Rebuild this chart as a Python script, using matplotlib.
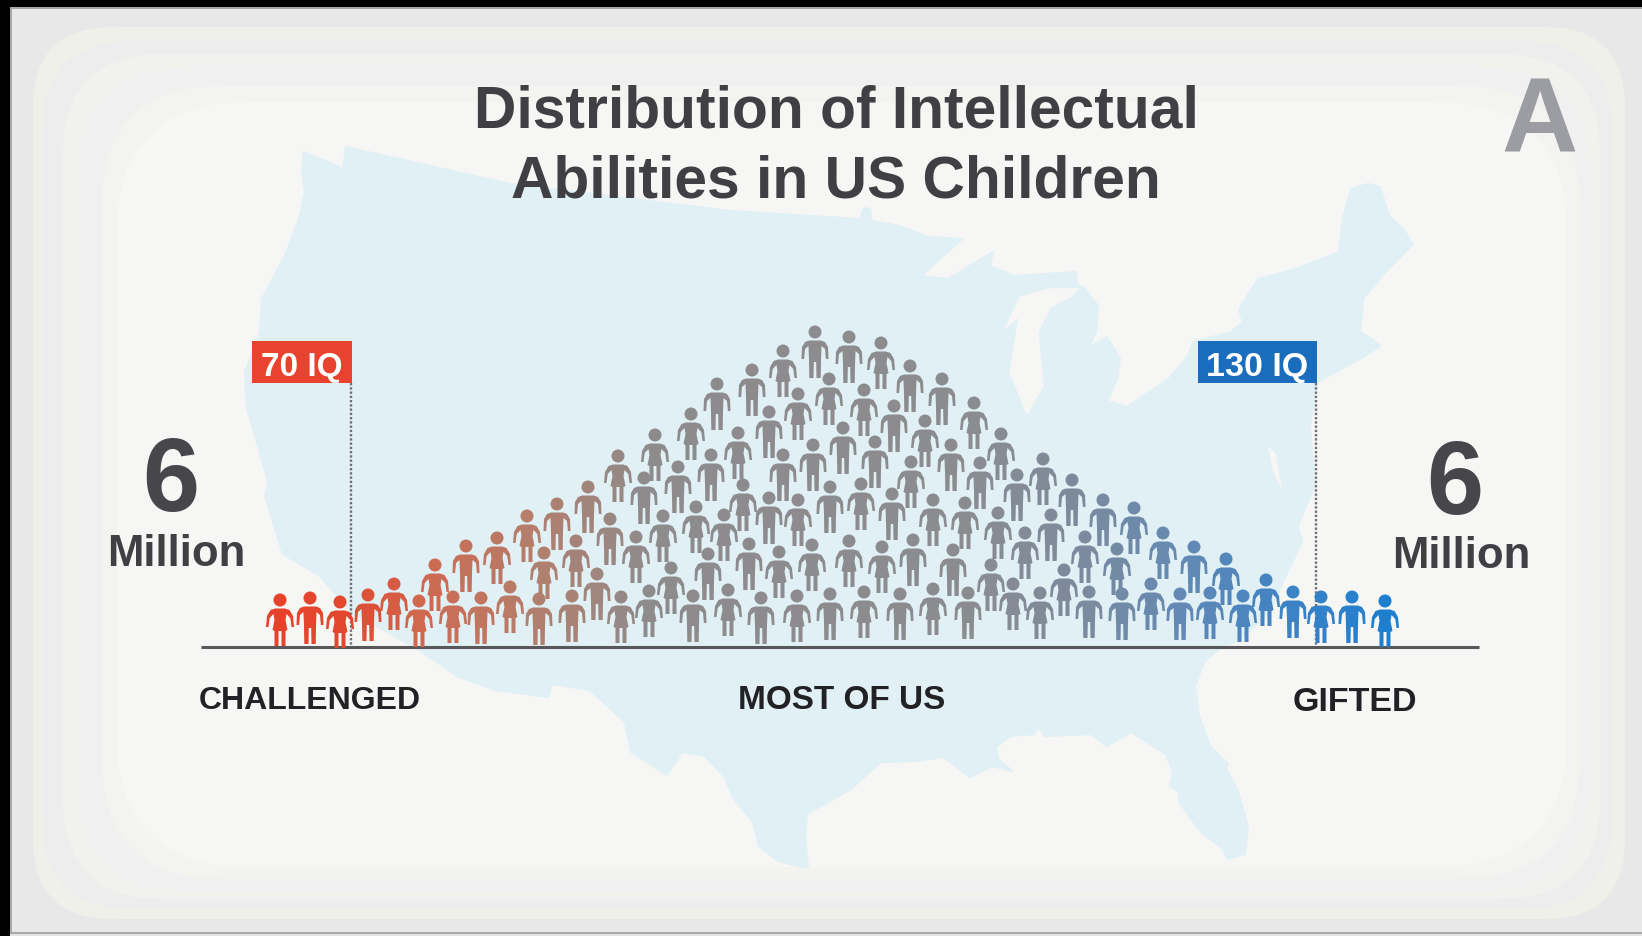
import numpy as np
import matplotlib
matplotlib.use('Agg')
import matplotlib.pyplot as plt
from matplotlib.colors import LinearSegmentedColormap
from matplotlib.patches import FancyBboxPatch, Polygon, Rectangle
from matplotlib.path import Path

plt.rcParams['font.family'] = ['Liberation Sans', 'DejaVu Sans']

# head positions of the figures, in image pixels
men_x = [310, 368, 466, 481, 539, 557, 572, 588, 597, 610, 644, 678, 693, 708, 711, 717, 749, 752, 761, 769, 769, 783,
         815, 849, 910, 942, 894, 843, 813, 875, 951, 980, 1017, 1072, 830, 892, 1051, 1103, 1194, 913, 953,
         830, 900, 968, 1089, 1122, 1180, 1293, 1352]
men_y = [599, 596, 547, 599, 600, 505, 597, 488, 575, 520, 479, 468, 597, 555, 456, 385, 545, 371, 599, 413, 499, 456,
         333, 338, 367, 380, 407, 429, 446, 443, 446, 464, 476, 481, 488, 495, 516, 501, 548, 541, 551,
         595, 595, 594, 593, 595, 595, 593, 598]
women_x = [280, 340, 394, 419, 435, 453, 497, 510, 527, 544, 576, 618, 621, 636, 649, 655, 663, 671, 691, 696, 724, 728,
           738, 743, 779, 783, 797, 798, 798,
           881, 829, 864, 925, 974, 1001, 911, 1043, 861, 933, 965, 998, 1134, 1025, 1085, 1117, 1163, 1226,
           812, 849, 882, 991, 1064, 864, 933, 1013, 1040, 1151, 1210, 1243, 1266, 1321, 1385]
women_y = [601, 603, 585, 602, 566, 598, 539, 588, 517, 554, 542, 457, 598, 538, 592, 436, 517, 569, 415, 508, 516, 591,
           434, 486, 553, 352, 597, 395, 501,
           344, 380, 391, 422, 404, 435, 463, 460, 485, 501, 504, 514, 509, 534, 538, 550, 534, 560,
           546, 542, 548, 566, 571, 593, 590, 585, 594, 585, 594, 597, 581, 598, 602]

# map outline
map_x = [304, 337, 343, 346, 510, 730, 860, 864, 870, 872, 900, 928, 962, 921, 948, 993, 990, 1014, 1076, 1077, 1085,
         1098, 1096, 1089, 1107, 1120, 1117, 1107, 1127, 1169, 1188, 1193, 1231, 1243, 1239, 1258, 1296, 1339, 1343,
         1351, 1368, 1380, 1389, 1403, 1413, 1382, 1363, 1360, 1372, 1380, 1365, 1317, 1310, 1312, 1315, 1306, 1298,
         1302, 1284, 1270, 1241, 1219, 1204, 1195, 1199, 1210, 1228, 1226, 1237, 1248, 1245, 1228, 1223, 1201, 1179,
         1179, 1170, 1173, 1166, 1131, 1107, 1091, 1045, 1038, 1034, 1010, 996, 998, 1012, 992, 970, 950, 943, 916,
         881, 851, 807, 805, 808, 778, 759, 753, 734, 724, 705, 682, 667, 631, 625, 590, 552, 548, 495, 457, 418,
         385, 351, 320, 283, 265, 268, 257, 247, 245, 260, 262, 285, 300, 305, 302]
map_y = [153, 167, 172, 148, 185, 212, 220, 209, 210, 222, 227, 238, 240, 277, 280, 253, 267, 277, 273, 285, 290,
         307, 333, 348, 338, 360, 380, 402, 408, 380, 357, 343, 333, 323, 310, 280, 270, 253, 220,
         190, 185, 188, 217, 230, 245, 277, 300, 333, 340, 347, 357, 383, 427, 453, 487, 507, 527,
         543, 580, 613, 640, 650, 663, 687, 717, 747, 765, 770, 790, 827, 855, 860, 850, 833, 803,
         793, 787, 773, 755, 733, 747, 735, 737, 728, 735, 737, 748, 760, 772, 767, 778, 763, 758, 762,
         763, 790, 815, 837, 869, 862, 847, 823, 800, 777, 757, 753, 776, 753, 723, 691, 685, 698, 691, 677, 650,
         632, 613, 577, 555, 497, 483, 443, 410, 373, 333, 300, 257, 217, 193, 173]
lake_x = [1078, 1050, 1020, 1005, 1019, 1010, 1027, 1043, 1038, 1050, 1072]
lake_y = [290, 290, 298, 330, 317, 373, 415, 387, 333, 308, 297]
bay_x = [1268, 1272, 1285, 1290, 1280, 1276]
bay_y = [447, 470, 497, 515, 480, 455]

title_lines = ['Distribution of Intellectual', 'Abilities in US Children']
group_labels = ['CHALLENGED', 'MOST OF US', 'GIFTED']
iq_labels = ['70 IQ', '130 IQ']

INK = '#404044'
FIG_R = 46.0  # head centre to feet, px


def person(dress):
    # right half in px, head centre at the origin, y pointing up
    if dress:
        half = [(0, -8.5), (5, -8.5), (9.5, -10), (13, -16), (14, -27), (11.5, -27), (10.3, -18), (6.5, -14),
                (5.5, -20), (7.5, -30), (5.5, -31), (5.5, -46), (1.5, -46), (1.5, -31)]
    else:
        half = [(0, -8.5), (6, -8.5), (10, -10), (13, -15), (13.5, -27), (10.9, -27), (10, -17), (6.5, -14),
                (6, -28), (5.7, -46), (1.5, -46), (1.2, -30)]
    left = [(-x, y) for x, y in half[::-1]]
    pts = (np.array(half + left[:-1]) / FIG_R).tolist()
    body = Path(pts + [pts[0]], closed=True)
    return Path.make_compound_path(Path.circle((0, 0), 6.5 / FIG_R), body)


fig = plt.figure(figsize=(16.42, 9.37), dpi=100, facecolor='black')
ax = fig.add_axes([0, 0, 1, 1])
ax.set_xlim(0, 1642)
ax.set_ylim(937, 0)
ax.axis('off')

# panel with its stepped glow
ax.add_patch(Rectangle((10, 8), 1632, 927, fc='#a8a8a6', ec='none', zorder=0))
ax.add_patch(Rectangle((12, 10), 1630, 923, fc='#e8e8e8', ec='none', zorder=0))
bands = [(33, 28, 1625, 920, 80, '#f0f0ea'),
         (42, 42, 1612, 910, 90, '#ededed'),
         (63, 55, 1600, 900, 100, '#f1f1ed'),
         (78, 68, 1590, 893, 110, '#f0f0f0'),
         (102, 87, 1580, 880, 120, '#f3f3ef'),
         (117, 103, 1567, 868, 130, '#f6f6f5')]
for x0, y0, x1, y1, r, c in bands:
    ax.add_patch(FancyBboxPatch((x0, y0), x1 - x0, y1 - y0, boxstyle=f'round,pad=0,rounding_size={r}',
                                fc=c, ec='none', zorder=1))
ax.add_patch(Rectangle((10, 935), 1632, 2, fc='#e4e4e4', ec='none', zorder=1))

ax.add_patch(Polygon(np.column_stack([map_x, map_y]), fc='#e0f0f5', ec='#e0f0f5', lw=1.5, joinstyle='round', zorder=2))
ax.add_patch(Polygon(np.column_stack([lake_x, lake_y]), fc='#f6f6f5', ec='#f6f6f5', lw=1, joinstyle='round', zorder=2))
ax.add_patch(Polygon(np.column_stack([bay_x, bay_y]), fc='#f6f6f5', ec='none', zorder=2))

ax.plot([201, 1479], [647.5, 647.5], color='#58585a', lw=2.2, solid_capstyle='butt', zorder=3)
ax.plot([351, 351], [384, 647], color='#6f7276', lw=1.7, ls=(0, (1, 0.8)), zorder=3)
ax.plot([1316, 1316], [384, 647], color='#6f7276', lw=1.7, ls=(0, (1, 0.8)), zorder=3)

# red through grey to blue along the x axis
ramp = LinearSegmentedColormap.from_list('ramp', [(0.0, '#e8412b'), (0.06, '#e0492f'), (0.13, '#cf6a50'),
                                                  (0.24, '#b0806f'), (0.33, '#8e8b8c'), (0.62, '#8b8c90'),
                                                  (0.72, '#7d8a9c'), (0.82, '#6389b5'), (0.91, '#3f83c4'),
                                                  (1.0, '#1f7fcf')])
size = (2 * FIG_R * 0.72) ** 2
for xs, ys, dress in [(men_x, men_y, False), (women_x, women_y, True)]:
    cols = ramp((np.array(xs) - 280) / (1385 - 280))
    ax.scatter(xs, ys, s=size, marker=person(dress), c=cols, linewidths=0, zorder=4)

ax.text(836, 127, title_lines[0], fontsize=42.3, fontweight='bold', color=INK, ha='center', va='baseline', zorder=5)
ax.text(836, 197, title_lines[1], fontsize=42.3, fontweight='bold', color=INK, ha='center', va='baseline', zorder=5)
ax.text(1540, 152, 'A', fontsize=76, fontweight='bold', color='#9c9ca3', ha='center', va='baseline', zorder=5)

ax.text(170.5, 511, '6', fontsize=74, fontweight='bold', color='#47474b', ha='center', va='baseline', zorder=5)
ax.text(1455, 514, '6', fontsize=74, fontweight='bold', color='#47474b', ha='center', va='baseline', zorder=5)
ax.text(176, 566, 'Million', fontsize=31.5, fontweight='bold', color=INK, ha='center', va='baseline', zorder=5)
ax.text(1461, 568, 'Million', fontsize=31.5, fontweight='bold', color=INK, ha='center', va='baseline', zorder=5)

ax.text(309.5, 709, group_labels[0], fontsize=23, fontweight='bold', color='#222226', ha='center', va='baseline', zorder=5)
ax.text(842, 709, group_labels[1], fontsize=24, fontweight='bold', color='#222226', ha='center', va='baseline', zorder=5)
ax.text(1355, 711, group_labels[2], fontsize=24.5, fontweight='bold', color='#222226', ha='center', va='baseline', zorder=5)

ax.add_patch(Rectangle((252, 342), 100, 42, fc='#e8432f', ec='none', zorder=5))
ax.add_patch(Rectangle((1198, 342), 119, 42, fc='#1a6dbd', ec='none', zorder=5))
ax.text(302, 376, iq_labels[0], fontsize=24, fontweight='bold', color='white', ha='center', va='baseline', zorder=6)
ax.text(1257, 376, iq_labels[1], fontsize=24.5, fontweight='bold', color='white', ha='center', va='baseline', zorder=6)

fig.savefig('out.png', dpi=100, facecolor='black')
